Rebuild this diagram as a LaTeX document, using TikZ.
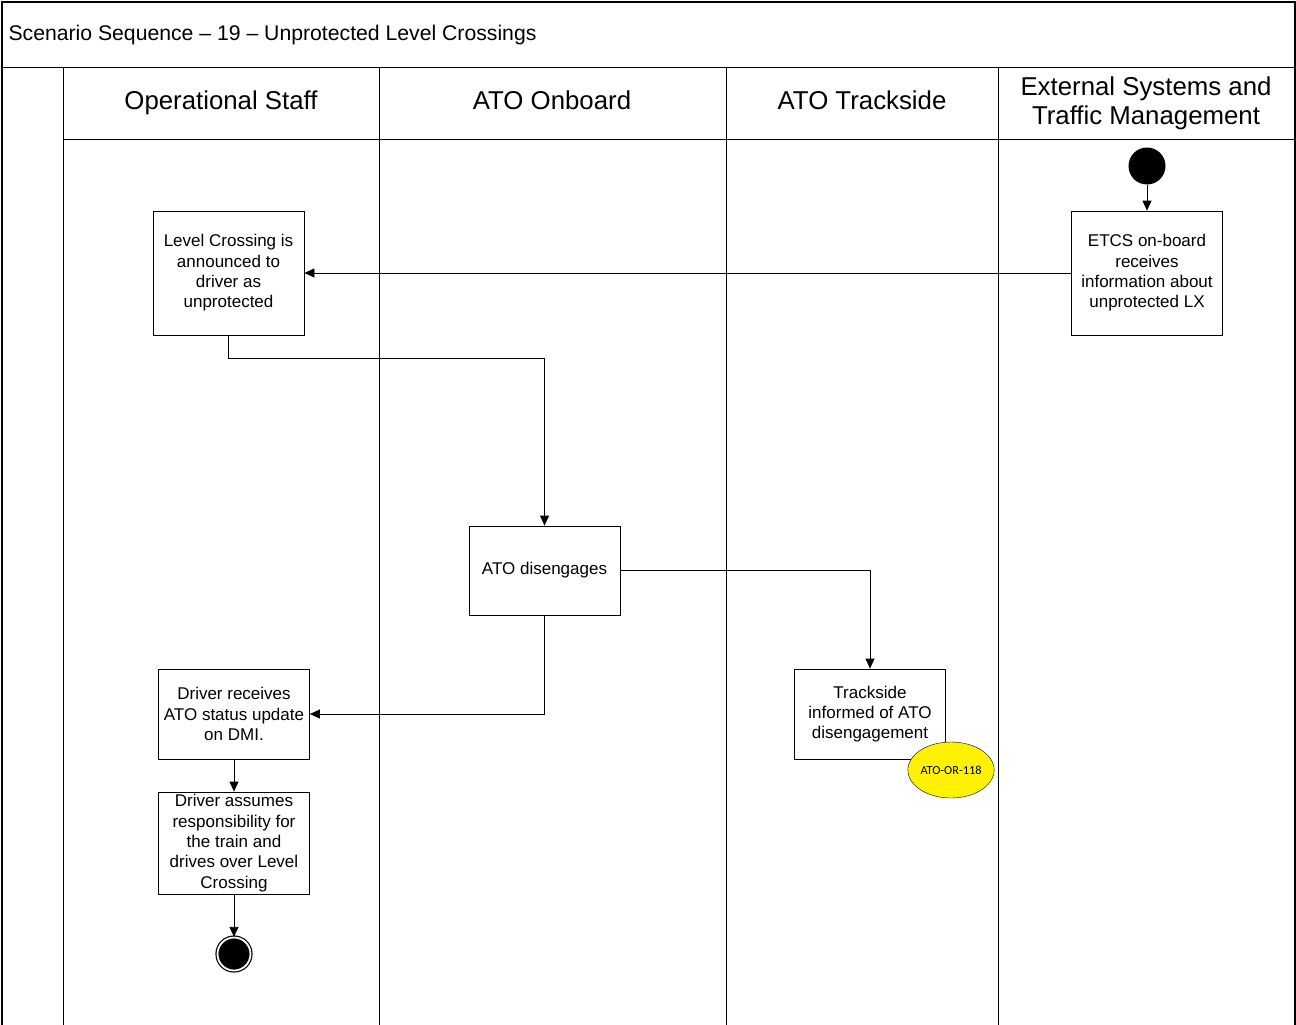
\documentclass[tikz,border=0pt]{standalone}
\usepackage{fontspec}
\setmainfont{Liberation Sans}
\newfontfamily\calib{Carlito}
\usetikzlibrary{arrows.meta,shapes.geometric}
\begin{document}
\begin{tikzpicture}[x=1pt,y=-1pt,
  box/.style={draw, line width=0.8pt, minimum width=151pt, align=center,
    font=\fontsize{17}{20.3}\selectfont, inner sep=0pt},
  flow/.style={line width=0.8pt, -{Triangle[length=10pt,width=9pt]}},
  lane/.style={line width=0.8pt},
  hdr/.style={font=\fontsize{25.8}{29}\selectfont, align=center},
  startnode/.style={circle, fill=black, minimum size=37pt, inner sep=0pt},
  endnode/.style={circle, draw, line width=1.2pt, fill=black, double=white, double distance=1.8pt, minimum size=33pt, inner sep=0pt},
  tag/.style={ellipse, draw, fill=yellow, minimum width=82pt, minimum height=56pt, inner sep=0pt, font=\calib\fontsize{12.3}{14}\selectfont}]
\useasboundingbox (0,0) rectangle (1296,1025);
% frame and lanes
\draw[lane, line width=1.2pt] (2,1025) -- (2,2) -- (1295,2) -- (1295,1025);
\draw[lane] (2,67) -- (1295,67);
\draw[lane] (63,139) -- (1295,139);
\foreach \x in {63,379,726,998} \draw[lane] (\x,67) -- (\x,1025);
\node[anchor=west, font=\fontsize{21.2}{24}\selectfont] (title) at (5,35) {Scenario Sequence -- 19 -- Unprotected Level Crossings};
\node[hdr, anchor=base] (h1) at (221,110) {Operational Staff};
\node[hdr, anchor=base] (h2) at (552,110) {ATO Onboard};
\node[hdr, anchor=base] (h3) at (862,110) {ATO Trackside};
\node[hdr] (h4) at (1146,103) {External Systems and\\Traffic Management};
% nodes
\node[startnode] (start) at (1147,166) {};
\node[box, minimum height=124pt] (etcs) at (1147,273) {ETCS on-board\\receives\\information about\\unprotected LX};
\node[box, minimum height=124pt] (lc) at (228.5,273) {Level Crossing is\\announced to\\driver as\\unprotected};
\node[box, minimum height=89pt] (dis) at (544.5,570.5) {ATO disengages};
\node[box, minimum height=90pt] (track) at (870,714) {Trackside\\informed of ATO\\disengagement};
\node[tag] (req) at (951,770) {ATO-OR-118};
\node[box, minimum height=90pt] (drv) at (234,714) {Driver receives\\ATO status update\\on DMI.};
\node[box, minimum height=102pt] (assume) at (234,843) {Driver assumes\\responsibility for\\the train and\\drives over Level\\Crossing};
\node[endnode] (end) at (234,954) {};
% connectors
\draw[flow] (start) -- (etcs);
\draw[flow] (etcs.west) -- (lc.east);
\draw[flow] (lc.south) -- ++(0,23) -| (dis.north);
\draw[flow] (dis.east) -| (track.north);
\draw[flow] (dis.south) |- (drv.east);
\draw[flow] (drv) -- (assume);
\draw[flow] (assume) -- (end);
\end{tikzpicture}
\end{document}
